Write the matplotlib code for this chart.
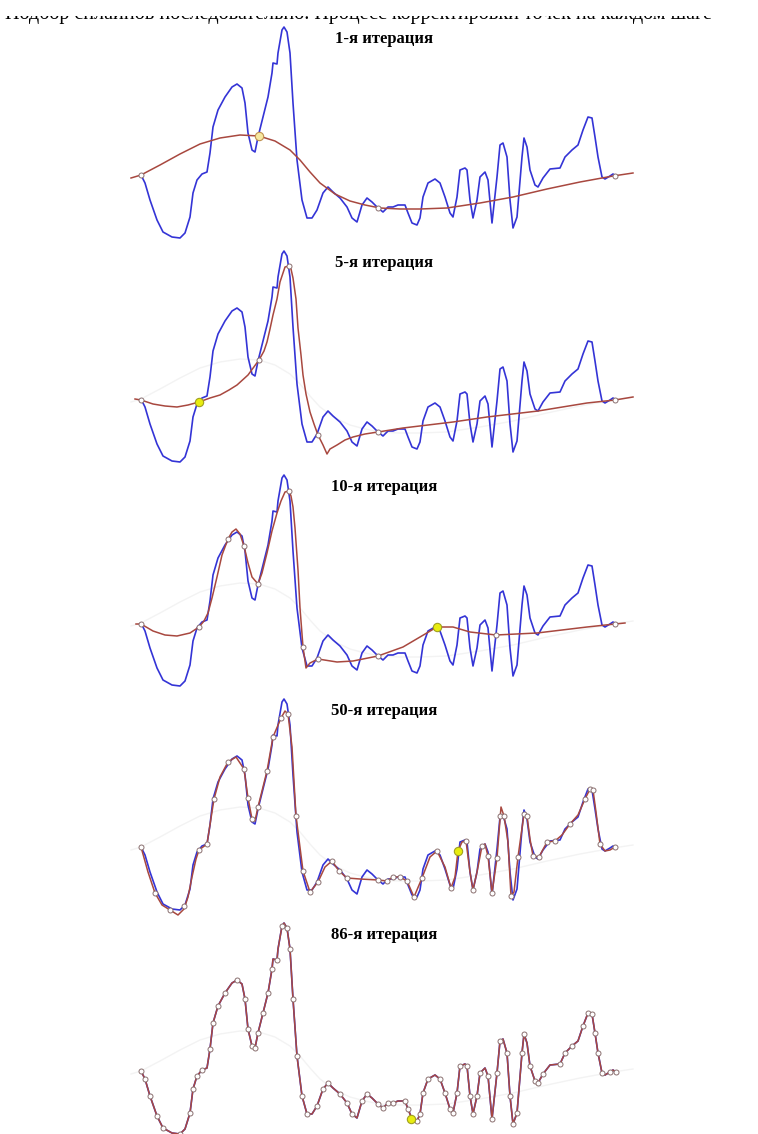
import matplotlib
matplotlib.use("Agg")
import matplotlib.pyplot as plt

plt.rcParams['font.family'] = ['Liberation Serif', 'DejaVu Serif']

# signal (x in px, y = height above baseline)
sig_x = [141, 145, 150, 157, 163, 172, 180, 185, 190, 193, 197, 202, 207, 210, 213, 218, 225, 232,
         237, 242, 245, 248, 252, 255, 258, 263, 268, 272, 273, 277, 278, 282, 284, 287, 290, 293,
         297, 302, 307, 312, 317, 323, 328, 333, 340, 347, 352, 357, 362, 367, 372, 378, 383, 388,
         393, 398, 405, 408, 412, 417, 420, 423, 428, 435, 440, 445, 450, 453, 457, 460, 465, 467,
         470, 473, 477, 480, 485, 488, 492, 497, 500, 503, 507, 510, 513, 517, 522, 524, 527, 530,
         535, 538, 543, 550, 560, 565, 572, 578, 583, 588, 592, 595, 598, 602, 605, 610, 613, 616]
sig_y = [0, -8, -25, -45, -57, -62, -63, -58, -42, -18, -5, 1, 3, 22, 48, 65, 78, 88,
         91, 87, 72, 42, 25, 23, 38, 58, 78, 102, 112, 111, 122, 145, 148, 143, 122, 72,
         15, -25, -43, -43, -35, -18, -12, -17, -23, -32, -43, -47, -30, -23, -27, -33, -37, -32,
         -32, -30, -30, -38, -48, -50, -43, -22, -8, -4, -8, -22, -38, -42, -22, 5, 7, 5,
         -25, -43, -25, -2, 3, -5, -48, -2, 30, 32, 18, -25, -53, -42, 18, 37, 28, 5,
         -10, -12, -3, 6, 7, 18, 25, 30, 45, 58, 57, 38, 18, -2, -4, -1, 1, -1]

# spline after 1st iteration
fit1_x = [131, 141, 160, 180, 200, 220, 240, 259, 275, 290, 300, 310, 320, 335, 350, 365, 380,
          400, 420, 447, 480, 513, 547, 580, 613, 633]
fit1_y = [-3, 0, 10, 21, 31, 37, 40, 39, 34, 25, 15, 3, -8, -19, -26, -30, -33,
          -34, -34, -33, -28, -22, -14, -7, -1, 2]

# 5th iteration
fit5_x = [135, 141, 153, 165, 177, 188, 199, 210, 220, 229, 237, 248, 259, 264, 267, 270, 273, 277,
          280, 283, 285, 289, 291, 293, 296, 298, 301, 303, 306, 310, 314, 318, 323, 327, 330, 337,
          345, 353, 365, 378, 403, 453, 487, 538, 587, 615, 633]
fit5_y = [0, -1, -5, -7, -8, -6, -3, 1, 4, 9, 14, 24, 39, 48, 57, 70, 84, 100,
          117, 126, 132, 133, 130, 121, 100, 71, 44, 24, 5, -13, -25, -36, -46, -55, -50, -46,
          -41, -38, -35, -33, -29, -23, -18, -12, -4, -1, 2]

# 10th iteration
fit10_x = [136, 141, 153, 165, 177, 190, 199, 204, 208, 212, 217, 222, 228, 232, 236, 240, 244,
           248, 252, 258, 262, 267, 272, 277, 281, 285, 289, 291, 293, 295, 298, 300, 303, 306,
           310, 318, 337, 353, 378, 403, 420, 437, 453, 470, 496, 537, 587, 615, 625]
fit10_y = [-1, -1, -8, -12, -13, -10, -4, 2, 10, 25, 46, 68, 84, 91, 94, 89, 77,
           60, 46, 39, 50, 70, 92, 110, 122, 131, 132, 127, 116, 95, 53, 15, -24, -45,
           -40, -36, -39, -38, -33, -24, -14, -4, -4, -9, -12, -10, -4, -1, 0]

# 50th iteration
fit50_x = [141, 148, 155, 162, 170, 178, 184, 188, 192, 196, 199, 207, 214, 220, 228, 236, 244,
           248, 252, 255, 258, 267, 273, 281, 285, 288, 292, 296, 303, 310, 318, 325, 332, 339,
           347, 360, 378, 387, 393, 400, 407, 414, 422, 430, 437, 445, 451, 455, 458, 462, 466,
           470, 473, 477, 482, 485, 488, 492, 497, 501, 504, 508, 511, 514, 518, 524, 527, 530,
           533, 539, 547, 555, 562, 570, 578, 585, 590, 593, 596, 600, 605, 610, 615]
fit50_y = [0, -25, -46, -58, -63, -68, -62, -50, -30, -12, -3, 3, 48, 70, 85, 90, 78,
           49, 28, 26, 40, 76, 110, 129, 136, 133, 100, 31, -24, -45, -35, -20, -14, -24,
           -31, -32, -33, -34, -30, -30, -34, -50, -31, -10, -4, -20, -41, -30, -4, 5, 6,
           -25, -43, -25, 1, 3, -9, -46, -11, 40, 31, 5, -49, -45, -10, 33, 31, 8,
           -9, -10, 5, 6, 12, 23, 32, 48, 58, 57, 35, 3, -4, -3, 0]

# knots (white) and current point (yellow) per panel
knots1_x = [141, 378, 615]
knots1_y = [0, -33, -1]
knots5_x = [141, 259, 289, 318, 378, 615]
knots5_y = [-1, 39, 133, -36, -33, -1]
knots10_x = [141, 199, 228, 244, 258, 289, 303, 318, 378, 496, 615]
knots10_y = [-1, -4, 84, 77, 39, 132, -24, -36, -33, -12, -1]
knots50_x = [141, 155, 170, 184, 199, 207, 214, 228, 244, 248, 252, 258, 267, 273, 281, 288, 296,
             303, 310, 318, 332, 339, 347, 378, 387, 393, 400, 407, 414, 422, 437, 451, 466, 473,
             482, 488, 492, 497, 500, 504, 511, 518, 524, 527, 533, 539, 547, 555, 570, 585, 590,
             593, 600, 615]
knots50_y = [0, -46, -63, -59, -3, 3, 48, 85, 78, 49, 28, 40, 76, 110, 129, 133, 31,
             -24, -45, -35, -14, -24, -31, -33, -34, -30, -30, -34, -50, -31, -4, -41, 6, -43,
             1, -9, -46, -11, 31, 31, -49, -10, 33, 31, -9, -10, 5, 6, 23, 48, 58,
             57, 3, 0]
# 86th iteration: knots sit on signal samples
knots86_idx = [i for i in range(len(sig_x)) if i not in
               (5, 7, 12, 17, 19, 28, 30, 32, 39, 43, 47, 50, 55, 63, 70, 76, 81, 88, 93, 97, 104, 106)]

yellow_x = [259, 199, 437, 458, 411]
yellow_y = [39, -3, -4, -4, -48]

titles = ['1-я итерация', '5-я итерация', '10-я итерация', '50-я итерация', '86-я итерация']
header = 'Подбор сплайнов последовательно. Процесс корректировки точек на каждом шаге'

fits = [(fit1_x, fit1_y), (fit5_x, fit5_y), (fit10_x, fit10_y), (fit50_x, fit50_y), (sig_x, sig_y)]
knots = [(knots1_x, knots1_y), (knots5_x, knots5_y), (knots10_x, knots10_y),
         (knots50_x, knots50_y),
         ([sig_x[i] for i in knots86_idx], [sig_y[i] for i in knots86_idx])]

BLUE = '#3434d6'
RED = '#a8483f'

fig = plt.figure(figsize=(7.58, 11.34), dpi=100)
W, H = 758, 1134

# header line, cut by the top of the page
hax = fig.add_axes([0, 1 - 40 / H, 1, 40 / H])
hax.set_xlim(0, W)
hax.set_ylim(40, 0)
hax.axis('off')
hax.patch.set_alpha(0)
hax.text(5, 19.5, header, ha='left', va='baseline', fontsize=14.5, color='black')

# white strip hiding the upper part of the header
cover = fig.add_axes([0, 1 - 16 / H, 1, 16 / H], zorder=20)
cover.set_facecolor('white')
cover.set_xticks([])
cover.set_yticks([])
for s in cover.spines.values():
    s.set_visible(False)

for k in range(5):
    top = 15 + 224 * k
    ax = fig.add_axes([0, 1 - (top + 230) / H, 1, 230 / H])
    ax.set_xlim(0, W)
    ax.set_ylim(-70, 160)
    ax.axis('off')
    ax.patch.set_alpha(0)

    if k > 0:
        ax.plot(fit1_x, fit1_y, color='#f3f3f3', lw=1.0, zorder=1)
    ax.plot(sig_x, sig_y, color=BLUE, lw=1.2, zorder=2, solid_joinstyle='round')
    fx, fy = fits[k]
    ax.plot(fx, fy, color=RED, lw=1.1, zorder=3, solid_joinstyle='round')
    kx, ky = knots[k]
    ax.plot(kx, ky, 'o', ms=3.6, mfc='white', mec='#8a7070', mew=0.7, zorder=4)
    if k == 0:
        ax.plot(yellow_x[k], yellow_y[k], 'o', ms=6, mfc='#f6e8a0', mec='#c09050', mew=0.8, zorder=5)
    else:
        ax.plot(yellow_x[k], yellow_y[k], 'o', ms=6, mfc='#e8ec10', mec='#a0a020', mew=0.8, zorder=5)
    ax.text(384, 136, titles[k], ha='center', va='center', fontsize=12, fontweight='bold',
            family=['Liberation Serif'])

fig.savefig('out.png', dpi=100, facecolor='white')
